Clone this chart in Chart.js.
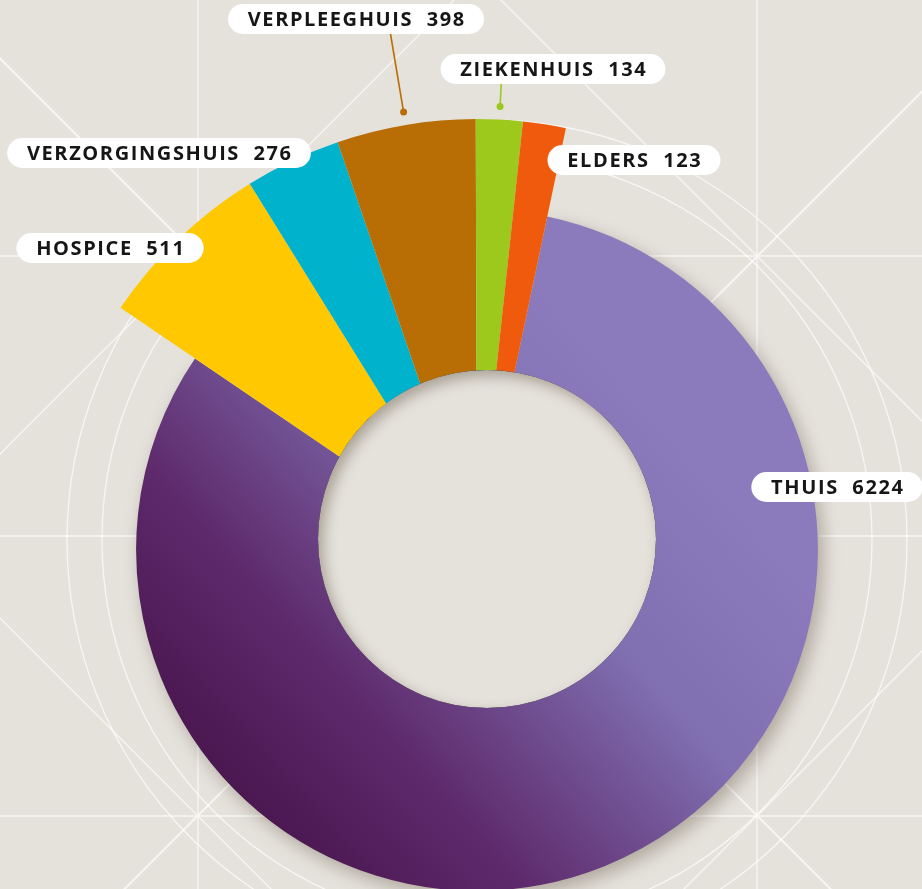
<!DOCTYPE html>
<html>
<head>
<meta charset="utf-8">
<script src="https://cdn.jsdelivr.net/npm/chart.js@4.4.1/dist/chart.umd.min.js"></script>
<style>
  html, body { margin: 0; padding: 0; background: #e5e2dc; overflow: hidden; }
</style>
</head>
<body>
<canvas id="death-chart" width="922" height="889"></canvas>
<script>
// where people died (counts)
var categories = ['THUIS', 'HOSPICE', 'VERZORGINGSHUIS', 'VERPLEEGHUIS', 'ZIEKENHUIS', 'ELDERS'];
var deaths = [6224, 511, 276, 398, 134, 123];

// styling per slice
var sliceColors = [null, '#ffc800', '#00b2cc', '#b96d05', '#9dc81c', '#f05a0c'];
var sliceReach = [0.791, 1, 1, 1, 1, 1];      // outer radius as part of full radius
var tagPos = [[837, 487], [110, 248], [159, 153], [356, 19], [553, 69], [634, 160]];
var leader = [false, false, false, true, true, false];

var bg = '#e5e2dc';
var holeShift = [10, -11], holeRadius = 169;

function thuisFill(c) {
    var area = c.chart.chartArea;
    if (!area) return '#6a4a90';
    var cx = (area.left + area.right) / 2, cy = (area.top + area.bottom) / 2;
    var g = c.chart.ctx.createLinearGradient(cx - 307, cy + 270, cx + 163, cy - 150);
    g.addColorStop(0, '#420f45');
    g.addColorStop(0.35, '#5e2a6c');
    g.addColorStop(0.72, '#8070b2');
    g.addColorStop(1, '#8b7bbd');
    return g;
}

var backdrop = {
    id: 'backdrop',
    beforeDraw: function(chart) {
        var ctx = chart.ctx, w = chart.width, h = chart.height;
        ctx.save();
        ctx.fillStyle = bg;
        ctx.fillRect(0, 0, w, h);
        ctx.strokeStyle = 'rgba(255,255,255,0.7)';
        ctx.lineWidth = 1.3;
        ctx.beginPath();
        [198, 757].forEach(function(x) { ctx.moveTo(x, 0); ctx.lineTo(x, h); });
        [256, 536, 816].forEach(function(y) { ctx.moveTo(0, y); ctx.lineTo(w, y); });
        [[198, 256], [757, 256], [198, 816], [757, 816]].forEach(function(p) {
            ctx.moveTo(p[0] - 1000, p[1] - 1000); ctx.lineTo(p[0] + 1000, p[1] + 1000);
            ctx.moveTo(p[0] - 1000, p[1] + 1000); ctx.lineTo(p[0] + 1000, p[1] - 1000);
        });
        ctx.stroke();
        ctx.beginPath();
        ctx.arc(487, 540, 385, 0, Math.PI * 2);
        ctx.stroke();
        ctx.beginPath();
        ctx.arc(487, 540, 420, 0, Math.PI * 2);
        ctx.stroke();
        ctx.restore();
    }
};

var sliceShape = {
    id: 'sliceShape',
    beforeDatasetsDraw: function(chart) {
        var meta = chart.getDatasetMeta(0);
        var full = meta.controller.outerRadius;
        meta.data.forEach(function(arc, i) {
            arc.outerRadius = full * sliceReach[i];
        });
        var thuis = meta.data[0];
        if (!thuis._shadowed) {
            var base = thuis.draw;
            thuis.draw = function(ctx) {
                ctx.save();
                ctx.shadowColor = 'rgba(70,55,35,0.35)';
                ctx.shadowBlur = 18;
                ctx.shadowOffsetX = 5;
                ctx.shadowOffsetY = 7;
                base.call(this, ctx);
                ctx.restore();
            };
            thuis._shadowed = true;
        }
    },
    afterDatasetsDraw: function(chart) {
        var ctx = chart.ctx;
        var arc = chart.getDatasetMeta(0).data[0];
        var hx = arc.x + holeShift[0], hy = arc.y + holeShift[1];
        ctx.save();
        ctx.beginPath();
        ctx.arc(hx, hy, holeRadius, 0, Math.PI * 2);
        ctx.fillStyle = bg;
        ctx.fill();
        ctx.clip();
        ctx.beginPath();
        ctx.arc(hx, hy, holeRadius + 40, 0, Math.PI * 2);
        ctx.lineWidth = 80;
        ctx.strokeStyle = '#000';
        ctx.shadowColor = 'rgba(70,55,35,0.38)';
        ctx.shadowBlur = 14;
        ctx.shadowOffsetX = 5;
        ctx.shadowOffsetY = 6;
        ctx.stroke();
        ctx.restore();
    }
};

var tags = {
    id: 'tags',
    afterDraw: function(chart) {
        var ctx = chart.ctx;
        var meta = chart.getDatasetMeta(0);
        ctx.save();
        ctx.font = 'bold 20px "Open Sans"';
        ctx.letterSpacing = '1.6px';
        ctx.textBaseline = 'middle';
        categories.forEach(function(name, i) {
            var txt = name + '  ' + deaths[i];
            var tw = ctx.measureText(txt).width;
            var cx = tagPos[i][0], cy = tagPos[i][1];
            var bw = tw + 38, bh = 30;
            var x0 = cx - bw / 2, y0 = cy - bh / 2;

            if (leader[i]) {
                var arc = meta.data[i];
                var mid = (arc.startAngle + arc.endAngle) / 2;
                var r = arc.outerRadius + 13;
                var dx = arc.x + Math.cos(mid) * r, dy = arc.y + Math.sin(mid) * r;
                var t = (dy - (y0 + bh)) / -Math.sin(mid);
                ctx.strokeStyle = sliceColors[i];
                ctx.fillStyle = sliceColors[i];
                ctx.lineWidth = 1.6;
                ctx.beginPath();
                ctx.moveTo(dx, dy);
                ctx.lineTo(dx + Math.cos(mid) * t, dy + Math.sin(mid) * t);
                ctx.stroke();
                ctx.beginPath();
                ctx.arc(dx, dy, 3.5, 0, Math.PI * 2);
                ctx.fill();
            }

            ctx.fillStyle = '#ffffff';
            ctx.beginPath();
            ctx.roundRect(x0, y0, bw, bh, bh / 2);
            ctx.fill();
            ctx.fillStyle = '#161616';
            ctx.textAlign = 'center';
            ctx.fillText(txt, cx + 0.8, cy + 1);
        });
        ctx.restore();
    }
};

var ctx = document.getElementById('death-chart').getContext('2d');
var chart = new Chart(ctx, {
    type: 'doughnut',
    data: {
        labels: categories,
        datasets: [{
            data: deaths,
            backgroundColor: function(c) {
                return c.dataIndex === 0 ? thuisFill(c) : sliceColors[c.dataIndex];
            },
            borderWidth: 0,
            clip: false
        }]
    },
    options: {
        responsive: false,
        animation: false,
        rotation: 11.9,
        radius: 431,
        cutout: '34.8%',
        layout: { padding: { left: 32, top: 211, right: 0, bottom: 0 } },
        plugins: {
            legend: { display: false },
            tooltip: { enabled: false }
        }
    },
    plugins: [backdrop, sliceShape, tags]
});
</script>
</body>
</html>
